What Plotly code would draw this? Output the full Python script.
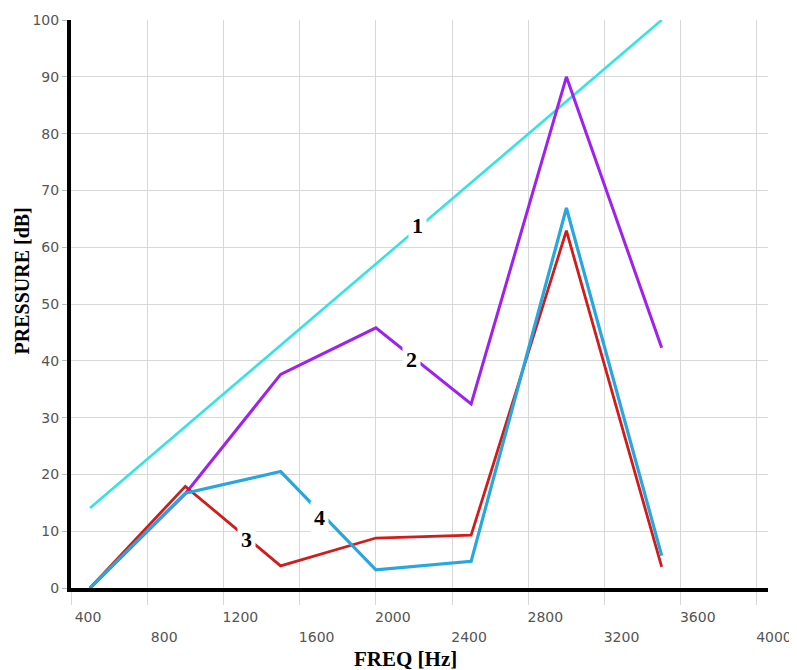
import plotly.graph_objects as go

freq = [500, 1000, 1500, 2000, 2500, 3000, 3500]
curve1 = [14.1, 28.4, 42.8, 57.0, 71.4, 85.7, 100.0]
curve2 = [0.0, 16.6, 37.6, 45.8, 32.4, 90.0, 42.3]
curve3 = [0.0, 17.9, 3.9, 8.8, 9.3, 62.9, 3.7]
curve4 = [0.0, 16.7, 20.5, 3.2, 4.7, 66.9, 5.7]

curve_labels = ["1", "2", "3", "4"]
label_x = [2218, 2187, 1320, 1703]
label_y = [63.8, 40.2, 8.5, 12.5]

x_ticks = [400, 800, 1200, 1600, 2000, 2400, 2800, 3200, 3600, 4000]
y_ticks = [0, 10, 20, 30, 40, 50, 60, 70, 80, 90, 100]

series = [
    (curve1, "#34e3e6", 2.6),
    (curve2, "#a020ee", 3.0),
    (curve3, "#d21b1b", 2.8),
    (curve4, "#27a6df", 3.2),
]

fig = go.Figure()
for vals, color, w in series:
    fig.add_trace(go.Scatter(x=freq, y=vals, mode="lines",
                             line=dict(color=color, width=w),
                             showlegend=False, hoverinfo="skip"))
# empty trace so the second (label-only) x axis is drawn
fig.add_trace(go.Scatter(x=[], y=[], xaxis="x2", showlegend=False, hoverinfo="skip"))

for t, lx, ly in zip(curve_labels, label_x, label_y):
    fig.add_annotation(x=lx, y=ly, xref="x", yref="y", text="<b>" + t + "</b>",
                       showarrow=False, bgcolor="white", borderpad=3,
                       font=dict(family="Liberation Serif", size=22, color="black"))

lower_vals = x_ticks[1::2]
upper_text = [str(v) if i % 2 == 0 else "" for i, v in enumerate(x_ticks)]

tickfont = dict(family="DejaVu Sans", size=14, color="#555555")
xr = [400, 4058]

fig.update_layout(
    xaxis=dict(range=xr, tickvals=x_ticks, ticktext=upper_text,
               automargin=False,
               showgrid=True, gridcolor="#d8d8d8", gridwidth=1.2,
               showline=True, linecolor="black", linewidth=4,
               ticks="outside", ticklen=13, tickcolor="#d8d8d8", tickwidth=1.2,
               ticklabelshift=17, tickfont=tickfont, zeroline=False),
    xaxis2=dict(range=xr, overlaying="x", matches="x", side="bottom", anchor="y",
                tickvals=lower_vals, ticktext=[str(v) for v in lower_vals],
                automargin=False, showgrid=False, showline=False, zeroline=False,
                ticks="outside", ticklen=13, tickcolor="rgba(0,0,0,0)",
                ticklabelshift=17, ticklabelstandoff=23, tickfont=tickfont),
    yaxis=dict(range=[0, 100], tickvals=y_ticks, automargin=False,
               showgrid=True, gridcolor="#d8d8d8", gridwidth=1.2,
               showline=True, linecolor="black", linewidth=4,
               ticks="outside", ticklen=5, tickcolor="#bbbbbb", tickwidth=1,
               tickfont=tickfont, zeroline=False),
)

fig.add_annotation(x=0.48, y=-0.125, xref="paper", yref="paper",
                   text="<b>FREQ [Hz]</b>", showarrow=False,
                   xanchor="center", yanchor="middle",
                   font=dict(family="Liberation Serif", size=21, color="black"))
fig.add_annotation(x=-0.07, y=0.54, xref="paper", yref="paper",
                   text="<b>PRESSURE [dB]</b>", showarrow=False, textangle=-90,
                   xanchor="center", yanchor="middle",
                   font=dict(family="Liberation Serif", size=20, color="black"))

# page body has an 8px margin, so the figure is sized to fit the window from (8, 8)
fig.update_layout(width=789, height=662,
                  margin=dict(l=63, r=29, t=12, b=82),
                  plot_bgcolor="white", paper_bgcolor="white")

fig.write_html("out.html")
